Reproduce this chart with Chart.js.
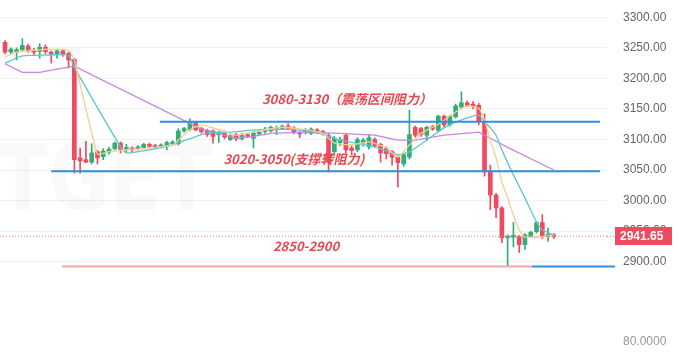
<!DOCTYPE html>
<html>
<head>
<meta charset="utf-8">
<script src="https://cdn.jsdelivr.net/npm/chart.js@4.4.0/dist/chart.umd.min.js"></script>
<style>
html, body { margin: 0; padding: 0; background: #fff; }
</style>
</head>
<body>
<canvas id="chart" width="679" height="360"></canvas>
<script>
// candles, one per slot (index 0 = leftmost)
const opens  = [3259,3243,3243,3247,3253,3246,3244,3251,3243,3240,3245,3241,3231,3070,3067,3063,3080,3072,3079,3085,
                3094,3084,3086,3085,3087,3092,3090,3088,3089,3093,3093,3114,3116,3127,3118,3115,3114,3108,3112,3100,
                3108,3101,3108,3102,3109,3113,3114,3116,3118,3122,3119,3111,3111,3110,3116,3113,3107,3080,3095,3107,
                3086,3083,3094,3088,3100,3092,3085,3080,3071,3060,3071,3120,3118,3107,3121,3115,3138,3124,3137,3153,
                3160,3158,3156,3129,3047,3009,2988,2939,2940,2941,2928,2942,2949,2964,2941,2944];
const highs  = [3262,3250,3250,3265,3256,3249,3257,3255,3245,3247,3247,3243,3233,3086,3097,3093,3082,3085,3087,3096,
                3096,3092,3088,3090,3094,3094,3092,3093,3097,3098,3118,3120,3134,3129,3120,3117,3116,3114,3114,3108,
                3110,3110,3110,3113,3114,3120,3122,3122,3124,3126,3121,3113,3118,3119,3118,3115,3110,3105,3104,3110,
                3090,3103,3102,3108,3103,3094,3088,3082,3073,3078,3148,3122,3120,3122,3123,3140,3140,3140,3158,3178,
                3163,3162,3159,3142,3058,3012,2990,2944,2964,2943,2946,2950,2966,2977,2955,2946];
const lows   = [3240,3240,3230,3244,3243,3237,3233,3240,3225,3233,3236,3217,3045,3045,3062,3060,3060,3067,3076,3083,
                3078,3080,3079,3083,3085,3087,3085,3086,3083,3091,3091,3112,3114,3114,3110,3105,3094,3095,3101,3098,
                3098,3099,3103,3086,3107,3110,3112,3108,3116,3116,3109,3103,3109,3108,3110,3107,3047,3075,3090,3078,
                3075,3080,3089,3084,3087,3063,3068,3058,3022,3056,3068,3104,3105,3098,3115,3113,3120,3122,3135,3150,
                3154,3150,3124,3040,2985,2972,2931,2892,2924,2915,2920,2940,2947,2938,2933,2938];
const closes = [3243,3248,3247,3254,3245,3243,3251,3244,3240,3245,3239,3230,3067,3065,3063,3078,3070,3081,3084,3094,
                3084,3087,3083,3088,3092,3089,3088,3091,3095,3096,3114,3118,3127,3116,3113,3108,3105,3111,3104,3106,
                3101,3108,3105,3111,3112,3117,3120,3119,3122,3118,3111,3109,3116,3117,3112,3110,3063,3102,3100,3083,
                3082,3100,3099,3103,3090,3078,3077,3071,3062,3075,3108,3107,3108,3120,3117,3138,3124,3138,3155,3160,
                3156,3155,3129,3047,3009,2988,2939,2942,2943,2928,2944,2948,2964,2941,2945,2941.65];

// moving average lines (slot index, price)
const maFastIdx = [0,2,5,8,11,12,16,18,21,25,29,30,32,34,37,40,44,48,52,55,57,60,63,66,68,70,72,75,78,80,82,83,84,85,86,87,88,89,90,92,95];
const maFastVal = [3235,3243,3246,3248,3246,3230,3076,3080,3083,3086,3091,3099,3116,3124,3116,3107,3114,3120,3116,3110,3094,3091,3096,3086,3071,3091,3110,3125,3145,3155,3151,3132,3099,3070,3030,3005,2976,2952,2940,2940,2944];
const maMidIdx  = [0,3,7,11,12,20,21,25,29,31,35,39,44,50,55,58,64,68,70,73,76,79,82,83,84,85,86,88,90,92,93,95];
const maMidVal  = [3225,3237,3238,3238,3218,3088,3078,3083,3091,3098,3111,3112,3116,3116,3109,3099,3088,3075,3080,3099,3119,3132,3140,3129,3119,3107,3083,3042,3004,2965,2952,2944];
const maSlowIdx = [0,3,6,9,12,34,37,40,43,46,52,58,64,68,71,76,82,84,87,95];
const maSlowVal = [3224,3210,3210,3215,3220,3117,3110,3102,3105,3110,3112,3110,3107,3099,3099,3107,3112,3102,3087,3050];

// drawn levels: price, first slot, last slot
const levelPrice = [3129, 3048, 2892, 2892];
const levelFrom  = [26.8, 8.0, 9.9, 91.2];
const levelTo    = [103.0, 103.0, 91.2, 105.6];

const lastPrice = 2941.65;

// right axis ticks
const yTickValues = [2769, 2900, 2950, 3000, 3050, 3100, 3150, 3200, 3250, 3300];
const yTickLabels = ['80.0000', '2900.00', '2950.00', '3000.00', '3050.00', '3100.00', '3150.00', '3200.00', '3250.00', '3300.00'];

// annotation texts: text, slot, price
const noteTexts  = ['3080-3130（震荡区间阻力）', '3020-3050(支撑转阻力)', '2850-2900'];
const noteSlot   = [59.2, 50.0, 52.1];
const notePrice  = [3166, 3068, 2926];

const RED = '#ef4a5f';
const GREEN = '#32ad77';
const candleColors = closes.map((c, i) => c >= opens[i] ? GREEN : RED);

function pts(idx, vals) {
    return idx.map((x, i) => ({ x: x, y: vals[i] }));
}

const levelColors = ['#2f8fdc', '#2f8fdc', '#f4a7a7', '#2f8fdc'];
const levelSets = levelPrice.map((p, i) => ({
    type: 'line',
    data: [{ x: levelFrom[i], y: p }, { x: levelTo[i], y: p }],
    borderColor: levelColors[i],
    borderWidth: 2,
    pointRadius: 0,
    clip: false,
    order: 0
}));

const chartPlugin = {
    id: 'extras',
    beforeDatasetsDraw(chart) {
        const ctx = chart.ctx;
        ctx.save();
        ctx.fillStyle = 'rgba(0,0,0,0.025)';
        ctx.font = 'bold 92px "DejaVu Sans"';
        ctx.textAlign = 'right';
        ctx.textBaseline = 'alphabetic';
        ctx.fillText('BITGET', 212, 210, 300);
        ctx.restore();
    },
    afterDraw(chart) {
        const ctx = chart.ctx;
        const xs = chart.scales.x, ys = chart.scales.y;
        ctx.save();
        ctx.fillStyle = '#e8474f';
        ctx.font = 'italic bold 13px "Noto Sans CJK SC"';
        ctx.textAlign = 'center';
        ctx.textBaseline = 'middle';
        noteTexts.forEach((t, i) => {
            ctx.fillText(t, xs.getPixelForValue(noteSlot[i]), ys.getPixelForValue(notePrice[i]));
        });
        // last price tag
        const py = Math.round(ys.getPixelForValue(lastPrice));
        ctx.strokeStyle = '#e87a90';
        ctx.lineWidth = 1;
        ctx.setLineDash([1, 2]);
        ctx.beginPath();
        ctx.moveTo(chart.chartArea.right, py + 0.5);
        ctx.lineTo(615, py + 0.5);
        ctx.stroke();
        ctx.setLineDash([]);
        ctx.fillStyle = '#f04a5e';
        ctx.fillRect(615, py - 9, 57, 18);
        ctx.fillStyle = '#fff';
        ctx.font = 'bold 12px "Liberation Sans"';
        ctx.textAlign = 'left';
        ctx.fillText(lastPrice.toFixed(2), 620, py + 1);
        ctx.restore();
    }
};

new Chart(document.getElementById('chart'), {
    type: 'bar',
    data: {
        datasets: [
            ...levelSets,
            {
                type: 'line',
                data: [{ x: -0.87, y: lastPrice }, { x: 104.2, y: lastPrice }],
                borderColor: '#e87a90',
                borderWidth: 1,
                borderDash: [1, 2],
                pointRadius: 0,
                order: 0
            },
            {
                type: 'line',
                data: pts(maFastIdx, maFastVal),
                borderColor: '#f8cd8e',
                borderWidth: 1.3,
                pointRadius: 0,
                tension: 0.15,
                order: 1
            },
            {
                type: 'line',
                data: pts(maMidIdx, maMidVal),
                borderColor: '#5cc6d2',
                borderWidth: 1.3,
                pointRadius: 0,
                tension: 0.15,
                order: 1
            },
            {
                type: 'line',
                data: pts(maSlowIdx, maSlowVal),
                borderColor: '#c985e2',
                borderWidth: 1.3,
                pointRadius: 0,
                tension: 0,
                order: 1
            },
            {
                data: closes.map((c, i) => ({ x: i, y: [opens[i], c] })),
                backgroundColor: candleColors,
                barThickness: 4,
                minBarLength: 1,
                grouped: false,
                order: 2
            },
            {
                data: closes.map((c, i) => ({ x: i, y: [lows[i], highs[i]] })),
                backgroundColor: candleColors,
                barThickness: 1,
                grouped: false,
                order: 3
            }
        ]
    },
    options: {
        responsive: false,
        animation: false,
        layout: { padding: 0, autoPadding: false },
        plugins: {
            legend: { display: false },
            tooltip: { enabled: false }
        },
        scales: {
            x: {
                type: 'linear',
                display: false,
                offset: false,
                min: -0.87,
                max: 104.2
            },
            y: {
                position: 'right',
                min: 2739.1,
                max: 3328.3,
                afterBuildTicks: (scale) => {
                    scale.ticks = yTickValues.map(v => ({ value: v }));
                },
                afterFit: (scale) => {
                    scale.width = 72;
                    scale.paddingTop = 0;
                    scale.paddingBottom = 0;
                },
                border: { display: false },
                grid: {
                    drawTicks: false,
                    color: (c) => c.tick && c.tick.value < 2800 ? 'rgba(0,0,0,0)' : '#f1f1f1'
                },
                ticks: {
                    padding: 16,
                    color: (c) => c.tick && c.tick.value < 2800 ? '#999' : '#666',
                    font: { family: 'Liberation Sans', size: 12 },
                    callback: (v) => yTickLabels[yTickValues.indexOf(v)]
                }
            }
        }
    },
    plugins: [chartPlugin]
});
</script>
</body>
</html>
